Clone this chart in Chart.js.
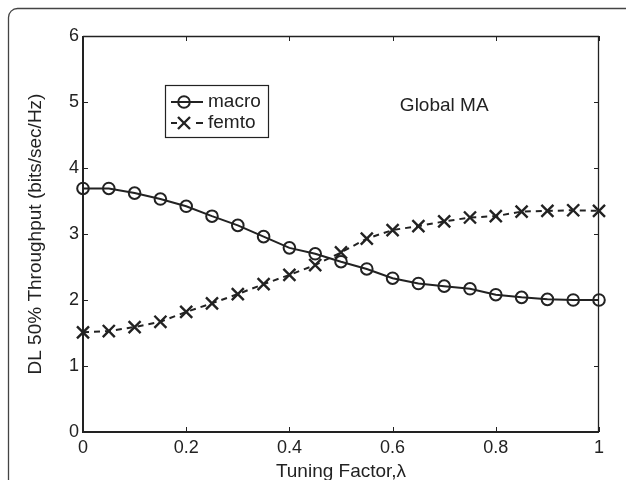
<!DOCTYPE html>
<html>
<head>
<meta charset="utf-8">
<script src="https://cdn.jsdelivr.net/npm/chart.js@4"></script>
<style>
html,body{margin:0;padding:0;background:#fff;}
#wrap{width:626px;height:480px;position:relative;}
</style>
</head>
<body>
<div id="wrap"><canvas id="c" width="626" height="480"></canvas></div>
<script>
const lambdaValues = [0, 0.05, 0.1, 0.15, 0.2, 0.25, 0.3, 0.35, 0.4, 0.45, 0.5, 0.55, 0.6, 0.65, 0.7, 0.75, 0.8, 0.85, 0.9, 0.95, 1];
const macroValues = [3.69, 3.69, 3.62, 3.53, 3.42, 3.27, 3.13, 2.96, 2.79, 2.70, 2.58, 2.47, 2.33, 2.25, 2.21, 2.17, 2.08, 2.04, 2.01, 2.00, 2.00];
const femtoValues = [1.51, 1.53, 1.59, 1.67, 1.82, 1.95, 2.09, 2.24, 2.38, 2.53, 2.72, 2.93, 3.06, 3.12, 3.19, 3.25, 3.27, 3.34, 3.35, 3.36, 3.35];
const seriesLabels = ['macro', 'femto'];
const xTickLabels = ['0', '0.2', '0.4', '0.6', '0.8', '1'];
const yTickLabels = ['0', '1', '2', '3', '4', '5', '6'];
const xTitle = 'Tuning Factor,\u03bb';
const yTitle = 'DL 50% Throughput (bits/sec/Hz)';
const annotationText = 'Global MA';

const FONT = "'Liberation Sans', Arial, Helvetica, sans-serif";
const INK = '#222';

function toPoints(xs, ys) { return xs.map((x, i) => ({x: x, y: ys[i]})); }

const framePlugin = {
  id: 'frame',
  beforeDraw(chart) {
    const ctx = chart.ctx;
    ctx.save();
    ctx.strokeStyle = '#444';
    ctx.lineWidth = 1.3;
    ctx.beginPath();
    ctx.roundRect(8.5, 8.5, 640, 500, 9);
    ctx.stroke();
    ctx.restore();
  }
};

const axesBoxPlugin = {
  id: 'axesBox',
  afterDraw(chart) {
    const ctx = chart.ctx;
    const a = chart.chartArea;
    const xs = chart.scales.x, ys = chart.scales.y;
    ctx.save();
    ctx.strokeStyle = INK;
    ctx.lineWidth = 1;
    const tl = 5;
    xs.ticks.forEach(t => {
      const px = Math.round(xs.getPixelForValue(t.value)) + 0.5;
      ctx.beginPath();
      ctx.moveTo(px, a.bottom); ctx.lineTo(px, a.bottom - tl);
      ctx.moveTo(px, a.top); ctx.lineTo(px, a.top + tl);
      ctx.stroke();
    });
    ys.ticks.forEach(t => {
      const py = Math.round(ys.getPixelForValue(t.value)) + 0.5;
      ctx.beginPath();
      ctx.moveTo(a.left, py); ctx.lineTo(a.left + tl, py);
      ctx.moveTo(a.right, py); ctx.lineTo(a.right - tl, py);
      ctx.stroke();
    });
    ctx.lineWidth = 1.3;
    ctx.beginPath();
    ctx.moveTo(a.left, a.top + 0.5); ctx.lineTo(a.right, a.top + 0.5);
    ctx.moveTo(a.right - 0.5, a.top); ctx.lineTo(a.right - 0.5, a.bottom);
    ctx.stroke();
    ctx.lineWidth = 2;
    ctx.beginPath();
    ctx.moveTo(a.left, a.top); ctx.lineTo(a.left, a.bottom);
    ctx.lineTo(a.right, a.bottom);
    ctx.stroke();

    ctx.fillStyle = INK;
    ctx.font = '19px ' + FONT;
    ctx.textAlign = 'center';
    ctx.textBaseline = 'middle';
    ctx.fillText(annotationText, xs.getPixelForValue(0.7), ys.getPixelForValue(4.95));

    const lx = a.left + 82, ly = a.top + 49, lw = 103, lh = 52;
    ctx.lineWidth = 1.2;
    ctx.strokeStyle = INK;
    ctx.strokeRect(lx + 0.5, ly + 0.5, lw, lh);
    chart.data.datasets.forEach((ds, i) => {
      const cy = ly + 17 + i * 21;
      const x0 = lx + 6, x1 = lx + 38, cx = lx + 19;
      ctx.save();
      ctx.strokeStyle = ds.borderColor;
      ctx.lineWidth = ds.borderWidth;
      ctx.beginPath();
      if (ds.borderDash && ds.borderDash.length) {
        ctx.moveTo(x0, cy); ctx.lineTo(x0 + 6, cy);
        ctx.moveTo(x1 - 7, cy); ctx.lineTo(x1, cy);
      } else {
        ctx.moveTo(x0, cy); ctx.lineTo(x1, cy);
      }
      ctx.stroke();
      ctx.strokeStyle = ds.pointBorderColor;
      ctx.fillStyle = 'rgba(0,0,0,0)';
      ctx.lineWidth = ds.pointBorderWidth;
      Chart.helpers.drawPoint(ctx, {
        pointStyle: ds.pointStyle, radius: ds.pointRadius, borderWidth: ds.pointBorderWidth, rotation: 0
      }, cx, cy);
      ctx.fillStyle = INK;
      ctx.font = '19px ' + FONT;
      ctx.textAlign = 'left';
      ctx.textBaseline = 'middle';
      ctx.fillText(ds.label, lx + 43, cy);
      ctx.restore();
    });
    ctx.restore();
  }
};

new Chart(document.getElementById('c'), {
  type: 'line',
  data: {
    datasets: [
      {
        label: seriesLabels[0],
        data: toPoints(lambdaValues, macroValues),
        borderColor: INK,
        borderWidth: 2,
        pointStyle: 'circle',
        pointRadius: 5.8,
        pointBorderWidth: 2,
        pointBorderColor: INK,
        pointBackgroundColor: 'rgba(0,0,0,0)',
        tension: 0,
        clip: false
      },
      {
        label: seriesLabels[1],
        data: toPoints(lambdaValues, femtoValues),
        borderColor: INK,
        borderWidth: 2,
        borderDash: [6, 5],
        pointStyle: 'crossRot',
        pointRadius: 8.5,
        pointBorderWidth: 2.4,
        pointBorderColor: INK,
        pointBackgroundColor: INK,
        tension: 0,
        clip: false
      }
    ]
  },
  options: {
    responsive: false,
    animation: false,
    devicePixelRatio: 1,
    layout: { padding: { left: 0, right: 27, top: 36, bottom: 0 } },
    plugins: { legend: { display: false }, tooltip: { enabled: false } },
    scales: {
      x: {
        type: 'linear', min: 0, max: 1,
        grid: { display: false, drawTicks: false },
        border: { display: false },
        ticks: {
          stepSize: 0.2, padding: 5, color: INK, autoSkip: false, maxRotation: 0,
          font: { family: FONT, size: 18 },
          callback: (v, i) => xTickLabels[i]
        },
        title: { display: true, text: xTitle, color: INK, font: { family: FONT, size: 19 }, padding: { top: 0, bottom: -3 } },
        afterFit(s) { s.height = 48; s.paddingLeft = 0; s.paddingRight = 0; }
      },
      y: {
        type: 'linear', min: 0, max: 6,
        grid: { display: false, drawTicks: false },
        border: { display: false },
        ticks: {
          stepSize: 1, padding: 4, color: INK, autoSkip: false,
          font: { family: FONT, size: 18 },
          callback: (v, i) => yTickLabels[i]
        },
        title: { display: true, text: yTitle, color: INK, font: { family: FONT, size: 19 }, padding: { top: 24, bottom: 0 } },
        afterFit(s) { s.width = 83; s.paddingTop = 0; s.paddingBottom = 0; }
      }
    }
  },
  plugins: [framePlugin, axesBoxPlugin]
});
</script>
</body>
</html>
